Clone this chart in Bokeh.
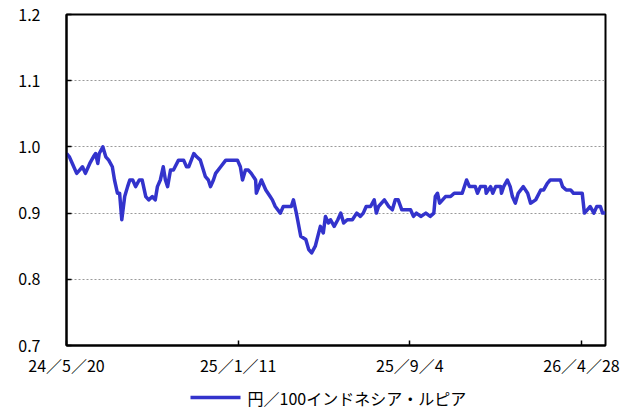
import pandas as pd
from bokeh.plotting import figure
from bokeh.layouts import column
from bokeh.core.properties import value
from bokeh.models import Range1d, FixedTicker, NumeralTickFormatter, ColumnDataSource
from bokeh.embed import file_html
from bokeh.resources import INLINE

dates = [
    "2024-05-20", "2024-05-24", "2024-05-28", "2024-06-03", "2024-06-07", "2024-06-11", "2024-06-15",
    "2024-06-21", "2024-06-26", "2024-06-29", "2024-07-02", "2024-07-04", "2024-07-09", "2024-07-13",
    "2024-07-17", "2024-07-22", "2024-07-25", "2024-07-29", "2024-08-01", "2024-08-04", "2024-08-08",
    "2024-08-12", "2024-08-15", "2024-08-19", "2024-08-23", "2024-08-28", "2024-09-01", "2024-09-06",
    "2024-09-10", "2024-09-15", "2024-09-19", "2024-09-22", "2024-09-26", "2024-09-30", "2024-10-03",
    "2024-10-06", "2024-10-10", "2024-10-14", "2024-10-21", "2024-10-28", "2024-11-01", "2024-11-04",
    "2024-11-11", "2024-11-15", "2024-11-20", "2024-11-27", "2024-12-01", "2024-12-04", "2024-12-08",
    "2024-12-11", "2024-12-18", "2024-12-25", "2025-01-10", "2025-01-14", "2025-01-17", "2025-01-21",
    "2025-01-25", "2025-01-29", "2025-02-04", "2025-02-05", "2025-02-12", "2025-02-18", "2025-02-24",
    "2025-02-27", "2025-03-03", "2025-03-10", "2025-03-14", "2025-03-25", "2025-03-28", "2025-04-01",
    "2025-04-07", "2025-04-14", "2025-04-18", "2025-04-22", "2025-04-27", "2025-05-04", "2025-05-08",
    "2025-05-11", "2025-05-15", "2025-05-18", "2025-05-23", "2025-05-28", "2025-06-01", "2025-06-05",
    "2025-06-10", "2025-06-17", "2025-06-23", "2025-06-28", "2025-07-02", "2025-07-06", "2025-07-12",
    "2025-07-17", "2025-07-20", "2025-07-23", "2025-07-31", "2025-08-06", "2025-08-11", "2025-08-15",
    "2025-08-19", "2025-08-24", "2025-08-29", "2025-09-05", "2025-09-09", "2025-09-13", "2025-09-19",
    "2025-09-26", "2025-10-02", "2025-10-07", "2025-10-09", "2025-10-12", "2025-10-15", "2025-10-19",
    "2025-10-23", "2025-10-30", "2025-11-04", "2025-11-10", "2025-11-15", "2025-11-21", "2025-11-25",
    "2025-12-03", "2025-12-06", "2025-12-10", "2025-12-17", "2025-12-18", "2025-12-24", "2025-12-27",
    "2025-12-31", "2026-01-07", "2026-01-08", "2026-01-11", "2026-01-16", "2026-01-20", "2026-01-23",
    "2026-01-27", "2026-01-31", "2026-02-07", "2026-02-13", "2026-02-17", "2026-02-24", "2026-03-03",
    "2026-03-07", "2026-03-12", "2026-03-16", "2026-03-23", "2026-03-30", "2026-04-02", "2026-04-07",
    "2026-04-13", "2026-04-17", "2026-04-29", "2026-05-02", "2026-05-06", "2026-05-10", "2026-05-15",
    "2026-05-19", "2026-05-24", "2026-05-27", "2026-05-31",
]
rates = [
    0.99, 0.985, 0.975, 0.96, 0.965, 0.97, 0.96,
    0.975, 0.985, 0.99, 0.975, 0.99, 1.00, 0.985,
    0.98, 0.97, 0.95, 0.93, 0.93, 0.89, 0.925,
    0.94, 0.95, 0.95, 0.94, 0.95, 0.95, 0.925,
    0.92, 0.925, 0.92, 0.94, 0.95, 0.97, 0.95,
    0.94, 0.965, 0.965, 0.98, 0.98, 0.97, 0.97,
    0.99, 0.985, 0.98, 0.955, 0.95, 0.94, 0.95,
    0.96, 0.97, 0.98, 0.98, 0.97, 0.95, 0.965,
    0.965, 0.96, 0.95, 0.93, 0.95, 0.935, 0.925,
    0.92, 0.91, 0.90, 0.91, 0.91, 0.92, 0.90,
    0.865, 0.86, 0.845, 0.84, 0.85, 0.88, 0.87,
    0.895, 0.885, 0.89, 0.88, 0.89, 0.90, 0.885,
    0.89, 0.89, 0.90, 0.895, 0.90, 0.91, 0.91,
    0.92, 0.90, 0.91, 0.92, 0.91, 0.905, 0.92,
    0.92, 0.905, 0.905, 0.905, 0.895, 0.90, 0.895,
    0.90, 0.895, 0.90, 0.925, 0.93, 0.915, 0.92,
    0.925, 0.925, 0.93, 0.93, 0.93, 0.95, 0.94,
    0.94, 0.93, 0.94, 0.94, 0.93, 0.94, 0.93,
    0.94, 0.94, 0.93, 0.94, 0.95, 0.94, 0.925,
    0.915, 0.93, 0.94, 0.93, 0.915, 0.92, 0.935,
    0.935, 0.945, 0.95, 0.95, 0.95, 0.94, 0.935,
    0.935, 0.93, 0.93, 0.90, 0.905, 0.91, 0.90,
    0.91, 0.91, 0.90, 0.90,
]

x_tick_dates = ["2024-05-20", "2025-01-11", "2025-09-04", "2026-04-28"]
x_tick_labels = ["24／5／20", "25／1／11", "25／9／4", "26／4／28"]
y_ticks = [0.7, 0.8, 0.9, 1.0, 1.1, 1.2]
series_name = "円／100インドネシア・ルピア"

FONT = "Noto Sans CJK JP"
BLUE = "#3333cc"
LINE_W = 3.5

src = ColumnDataSource(dict(d=pd.to_datetime(dates), v=rates))

x_start = pd.Timestamp("2024-05-20")
x_end = pd.Timestamp("2026-05-31")

p = figure(
    x_axis_type="datetime",
    width=631, height=385,
    min_border_left=66, min_border_right=26, min_border_top=14, min_border_bottom=40,
    x_range=Range1d(x_start, x_end), y_range=Range1d(0.7, 1.2),
    output_backend="svg", toolbar_location=None,
    background_fill_color="white", border_fill_color="white",
)

r = p.line("d", "v", source=src, line_color=BLUE, line_width=LINE_W, line_join="round")

tick_ms = [float(pd.Timestamp(t).value // 10**6) for t in x_tick_dates]
p.xaxis.ticker = FixedTicker(ticks=tick_ms)
p.xaxis.major_label_overrides = {ms: lab for ms, lab in zip(tick_ms, x_tick_labels)}
p.yaxis.ticker = FixedTicker(ticks=y_ticks)
p.yaxis.formatter = NumeralTickFormatter(format="0.0")

for ax in (p.xaxis, p.yaxis):
    ax.axis_line_color = "black"
    ax.axis_line_width = 2
    ax.major_tick_line_color = "black"
    ax.major_tick_line_width = 1.5
    ax.major_tick_in = 5
    ax.major_tick_out = 0
    ax.minor_tick_line_color = None
    ax.major_label_text_font = FONT
    ax.major_label_text_font_size = "16px"
    ax.major_label_text_color = "black"

p.yaxis.major_label_standoff = 26
p.xaxis.major_label_standoff = 7

p.xgrid.grid_line_color = None
p.ygrid.grid_line_color = "#9a9a9a"
p.ygrid.grid_line_dash = "2 2"
p.ygrid.grid_line_width = 1

p.outline_line_color = "black"
p.outline_line_width = 2
p.outline_line_alpha = 1

# legend strip beneath the chart; its frame is aligned with the chart frame (x 66..605 px)
lp = figure(
    width=631, height=30,
    min_border=0, min_border_left=0, min_border_right=0, min_border_top=0, min_border_bottom=0,
    x_axis_location=None, y_axis_location=None,
    x_range=Range1d(66, 605), y_range=Range1d(0, 30),
    output_backend="svg", toolbar_location=None,
    background_fill_color="white", border_fill_color="white",
)
lp.outline_line_color = None
lp.xgrid.grid_line_color = None
lp.ygrid.grid_line_color = None
lp.segment(x0=[190], y0=[18], x1=[240], y1=[18], line_color=BLUE, line_width=LINE_W)
lp.text(x=[247], y=[18], text=[series_name], text_font=value(FONT),
        text_font_size="16px", text_baseline="middle", text_align="left", text_color="black")

layout = column(p, lp, spacing=0)
open("out.html", "w").write(file_html(layout, INLINE))
